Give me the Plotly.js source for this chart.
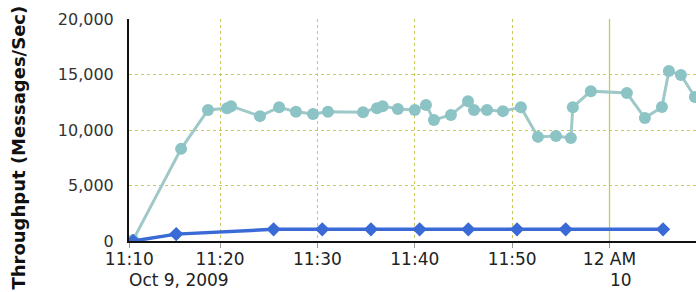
<!DOCTYPE html>
<html>
<head>
<meta charset="utf-8">
<script src="https://cdn.plot.ly/plotly-3.0.1.min.js"></script>
<style>html,body{margin:0;padding:0;background:#fff;}#chart{width:696px;height:292px;}</style>
</head>
<body>
<div id="chart"></div>
<script>
// Series A (teal): throughput samples
const tealTimes = [
  '2009-10-09 23:11:04','2009-10-09 23:16:00','2009-10-09 23:18:46','2009-10-09 23:20:43',
  '2009-10-09 23:21:08','2009-10-09 23:24:06','2009-10-09 23:26:04','2009-10-09 23:27:48',
  '2009-10-09 23:29:33','2009-10-09 23:31:05','2009-10-09 23:34:41','2009-10-09 23:36:07',
  '2009-10-09 23:36:42','2009-10-09 23:38:16','2009-10-09 23:40:00','2009-10-09 23:41:09',
  '2009-10-09 23:41:58','2009-10-09 23:43:43','2009-10-09 23:45:28','2009-10-09 23:46:05',
  '2009-10-09 23:47:25','2009-10-09 23:49:03','2009-10-09 23:50:54','2009-10-09 23:52:39',
  '2009-10-09 23:54:30','2009-10-09 23:56:02','2009-10-09 23:56:14','2009-10-09 23:58:05',
  '2009-10-10 00:01:47','2009-10-10 00:03:38','2009-10-10 00:05:23','2009-10-10 00:06:06',
  '2009-10-10 00:07:20','2009-10-10 00:08:46'
];
const tealValues = [
  80, 8300, 11800, 11950,
  12150, 11250, 12050, 11650,
  11450, 11650, 11600, 11950,
  12150, 11900, 11800, 12250,
  10900, 11350, 12600, 11800,
  11800, 11700, 12050, 9380,
  9460, 9280, 12050, 13500,
  13330, 11080, 12070, 15320,
  14960, 12970
];
// Series B (blue)
const blueTimes = [
  '2009-10-09 23:11:04','2009-10-09 23:15:30','2009-10-09 23:25:30','2009-10-09 23:30:30',
  '2009-10-09 23:35:30','2009-10-09 23:40:30','2009-10-09 23:45:30','2009-10-09 23:50:30',
  '2009-10-09 23:55:30','2009-10-10 00:05:30'
];
const blueValues = [0, 620, 1050, 1050, 1050, 1050, 1050, 1050, 1050, 1050];

// Axis ticks
const xRange = ['2009-10-09 23:10:39', '2009-10-10 00:08:53'];
const xTickVals = ['2009-10-09 23:10:41','2009-10-09 23:20','2009-10-09 23:30','2009-10-09 23:40','2009-10-09 23:50','2009-10-10 00:00'];
const xTickText = ['11:10','11:20','11:30','11:40','11:50','12 AM'];
const dateLabelVals = ['2009-10-09 23:10:41','2009-10-10 00:00'];
const dateLabelText = ['Oct 9, 2009','10'];
const dayBoundary = '2009-10-10 00:00';
const yTickVals = [0, 5000, 10000, 15000, 20000];
const yTickText = ['0','5,000','10,000','15,000','20,000'];
const yTitle = 'Throughput (Messages/Sec)';

const FONT = 'DejaVu Sans, Verdana, sans-serif';

const traces = [
  {
    x: tealTimes, y: tealValues, type: 'scatter', mode: 'lines+markers',
    line: {color: '#9fc8c8', width: 3},
    marker: {color: '#8cc3c5', size: 12, symbol: 'circle'},
    showlegend: false, hoverinfo: 'skip'
  },
  {
    x: blueTimes, y: blueValues, type: 'scatter', mode: 'lines+markers',
    line: {color: '#3a6ad6', width: 3.5},
    marker: {color: '#3a6ad6', size: 11, symbol: 'diamond'},
    showlegend: false, hoverinfo: 'skip'
  }
];

const annotations = dateLabelVals.map((v, i) => ({
  x: v, xref: 'x', y: 0, yref: 'paper', text: dateLabelText[i],
  xanchor: 'left', yanchor: 'top', yshift: -27, xshift: -2, showarrow: false,
  font: {family: FONT, size: 17, color: '#222'}
}));
annotations.push({
  x: 0, xref: 'paper', y: 0.421, yref: 'paper', text: '<b>' + yTitle + '</b>',
  textangle: -90, xanchor: 'center', yanchor: 'middle', xshift: -110, showarrow: false,
  font: {family: FONT, size: 18, color: '#111'}
});

const layout = {
  width: 696, height: 292,
  margin: {l: 129, r: 0, t: 19, b: 51, pad: 0},
  paper_bgcolor: '#ffffff', plot_bgcolor: '#ffffff',
  showlegend: false,
  xaxis: {
    type: 'date', range: xRange, tickmode: 'array', tickvals: xTickVals, ticktext: xTickText,
    showgrid: true, gridcolor: '#c8c860', griddash: 'dot', gridwidth: 1,
    showline: true, linecolor: '#111', linewidth: 2,
    ticks: 'outside', ticklen: 5, tickcolor: '#999', tickwidth: 1,
    tickfont: {family: FONT, size: 17, color: '#222'},
    ticklabelstandoff: -3,
    zeroline: false, fixedrange: true
  },
  yaxis: {
    range: [0, 20000], tickmode: 'array', tickvals: yTickVals, ticktext: yTickText,
    showgrid: true, gridcolor: '#c8c860', griddash: 'dot', gridwidth: 1,
    showline: true, linecolor: '#111', linewidth: 2,
    ticks: '', ticklabelstandoff: 10,
    tickfont: {family: FONT, size: 16, color: '#333'},
    zeroline: false, fixedrange: true
  },
  shapes: [{
    type: 'line', xref: 'x', yref: 'paper', x0: dayBoundary, x1: dayBoundary, y0: 0, y1: 1,
    line: {color: '#c8c850', width: 1.3}, layer: 'below'
  }],
  annotations: annotations
};

Plotly.newPlot('chart', traces, layout, {staticPlot: true, displayModeBar: false});
</script>
</body>
</html>
